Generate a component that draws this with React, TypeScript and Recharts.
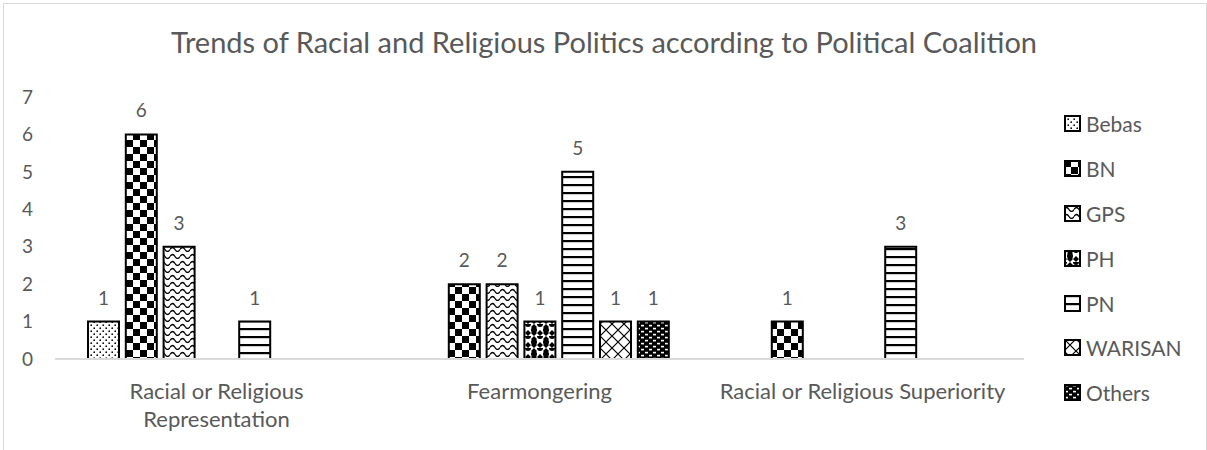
import { Bar, BarChart, Legend, XAxis, YAxis } from 'recharts'

const categories = ['Racial or Religious Representation', 'Fearmongering', 'Racial or Religious Superiority']
const categoryLines = [['Racial or Religious', 'Representation'], ['Fearmongering'], ['Racial or Religious Superiority']]
const coalitions = ['Bebas', 'BN', 'GPS', 'PH', 'PN', 'WARISAN', 'Others']

const bebas = [1, 0, 0]
const bn = [6, 2, 1]
const gps = [3, 2, 0]
const ph = [0, 1, 0]
const pn = [1, 5, 3]
const warisan = [0, 1, 0]
const others = [0, 1, 0]

const yTicks = [0, 1, 2, 3, 4, 5, 6, 7]

const series: Record<string, number[]> = {
  Bebas: bebas,
  BN: bn,
  GPS: gps,
  PH: ph,
  PN: pn,
  WARISAN: warisan,
  Others: others,
}

const TEXT = '#595959'
const FONT = 'Lato, "Open Sans", sans-serif'

// zero counts are not drawn in the original, so they become null
const rows = categories.map((c, i) => {
  const row: Record<string, string | number | null> = { category: c }
  coalitions.forEach(k => {
    row[k] = series[k][i] || null
  })
  return row
})

function Patterns() {
  return (
    <defs>
      <pattern id="pat-Bebas" width={6} height={6} patternUnits="userSpaceOnUse">
        <rect width={6} height={6} fill="#fff" />
        <circle cx={1.2} cy={1.2} r={0.85} fill="#000" />
        <circle cx={4.2} cy={4.2} r={0.85} fill="#000" />
      </pattern>
      <pattern id="pat-BN" width={14} height={14} patternUnits="userSpaceOnUse">
        <rect width={14} height={14} fill="#fff" />
        <rect width={7} height={7} fill="#000" />
        <rect x={7} y={7} width={7} height={7} fill="#000" />
      </pattern>
      <pattern id="pat-GPS" width={10} height={7} patternUnits="userSpaceOnUse">
        <rect width={10} height={7} fill="#fff" />
        <path d="M0 4.5 Q2.5 0.5 5 4.5 T10 4.5" stroke="#000" strokeWidth={1.3} fill="none" />
      </pattern>
      <pattern id="pat-PH" width={12} height={12} patternUnits="userSpaceOnUse">
        <rect width={12} height={12} fill="#fff" />
        <path d="M6 0 L9 3 L6 6 L3 3 Z M0 6 L3 9 L0 12 Z M12 6 L9 9 L12 12 Z M6 6 L9 9 L6 12 L3 9 Z" fill="#000" />
        <circle cx={0} cy={0} r={3} fill="#000" />
        <circle cx={12} cy={0} r={3} fill="#000" />
        <circle cx={6} cy={6} r={3} fill="#000" />
      </pattern>
      <pattern id="pat-PN" width={8} height={8} patternUnits="userSpaceOnUse">
        <rect width={8} height={8} fill="#fff" />
        <rect width={8} height={2.2} fill="#000" />
      </pattern>
      <pattern id="pat-WARISAN" width={12} height={12} patternUnits="userSpaceOnUse">
        <rect width={12} height={12} fill="#fff" />
        <path d="M0 0 L12 12 M12 0 L0 12" stroke="#000" strokeWidth={1.2} />
      </pattern>
      <pattern id="pat-Others" width={8} height={6} patternUnits="userSpaceOnUse">
        <rect width={8} height={6} fill="#000" />
        <rect x={1} y={0.8} width={3} height={1.6} fill="#fff" />
        <rect x={5} y={3.8} width={3} height={1.6} fill="#fff" />
      </pattern>
    </defs>
  )
}

interface TickProps {
  x?: number
  y?: number
  index?: number
}

function CategoryTick({ x = 0, y = 0, index = 0 }: TickProps) {
  const lines = categoryLines[index] ?? []
  return (
    <g transform={`translate(${x},${y})`}>
      {lines.map((l, i) => (
        <text key={l} x={0} y={32 + i * 28} textAnchor="middle" fill={TEXT} fontSize={22} fontFamily={FONT}>
          {l}
        </text>
      ))}
    </g>
  )
}

interface LabelProps {
  x?: number
  y?: number
  width?: number
  value?: number | null
}

function ValueLabel({ x = 0, y = 0, width = 0, value }: LabelProps) {
  if (!value) return null
  return (
    <text x={x + width / 2} y={y - 17} textAnchor="middle" fill={TEXT} fontSize={19} fontFamily={FONT}>
      {value}
    </text>
  )
}

function LegendBox() {
  return (
    <div style={{ fontFamily: FONT }}>
      {coalitions.map(k => (
        <div key={k} style={{ height: 44.8, display: 'flex', alignItems: 'center' }}>
          <svg width={17} height={17} style={{ marginRight: 5 }}>
            <rect x={1} y={1} width={15} height={15} fill={`url(#pat-${k})`} stroke="#000" strokeWidth={2} />
          </svg>
          <span style={{ color: TEXT, fontSize: 21 }}>{k}</span>
        </div>
      ))}
    </div>
  )
}

export default function App() {
  return (
    <div style={{ position: 'absolute', left: 0, top: 0, width: 1207, height: 450, background: '#fff', overflow: 'hidden' }}>
      <div
        style={{
          position: 'absolute',
          left: 3,
          top: 3,
          width: 1202,
          height: 470,
          border: '1px solid #d9d9d9',
        }}
      />
      <BarChart
        width={1207}
        height={450}
        data={rows}
        margin={{ top: 97, right: 183, left: 0, bottom: 31 }}
        barSize={31}
        barGap={6.8}
      >
        <Patterns />
        <text x={604} y={53} textAnchor="middle" fill={TEXT} fontSize={29} fontFamily={FONT}>
          Trends of Racial and Religious Politics according to Political Coalition
        </text>
        <XAxis
          dataKey="category"
          height={60}
          axisLine={{ stroke: '#d9d9d9', strokeWidth: 2 }}
          tickLine={false}
          interval={0}
          tick={<CategoryTick />}
        />
        <YAxis
          width={55}
          domain={[0, 7]}
          ticks={yTicks}
          axisLine={false}
          tickLine={false}
          tickMargin={16}
          tick={{ fill: TEXT, fontSize: 19, fontFamily: FONT }}
        />
        <Legend
          layout="vertical"
          align="center"
          verticalAlign="middle"
          wrapperStyle={{ left: 1064, top: 101.6, width: 140 }}
          content={<LegendBox />}
        />
        {coalitions.map(k => (
          <Bar
            key={k}
            dataKey={k}
            fill={`url(#pat-${k})`}
            stroke="#000"
            strokeWidth={2}
            label={<ValueLabel />}
            isAnimationActive={false}
          />
        ))}
      </BarChart>
    </div>
  )
}
